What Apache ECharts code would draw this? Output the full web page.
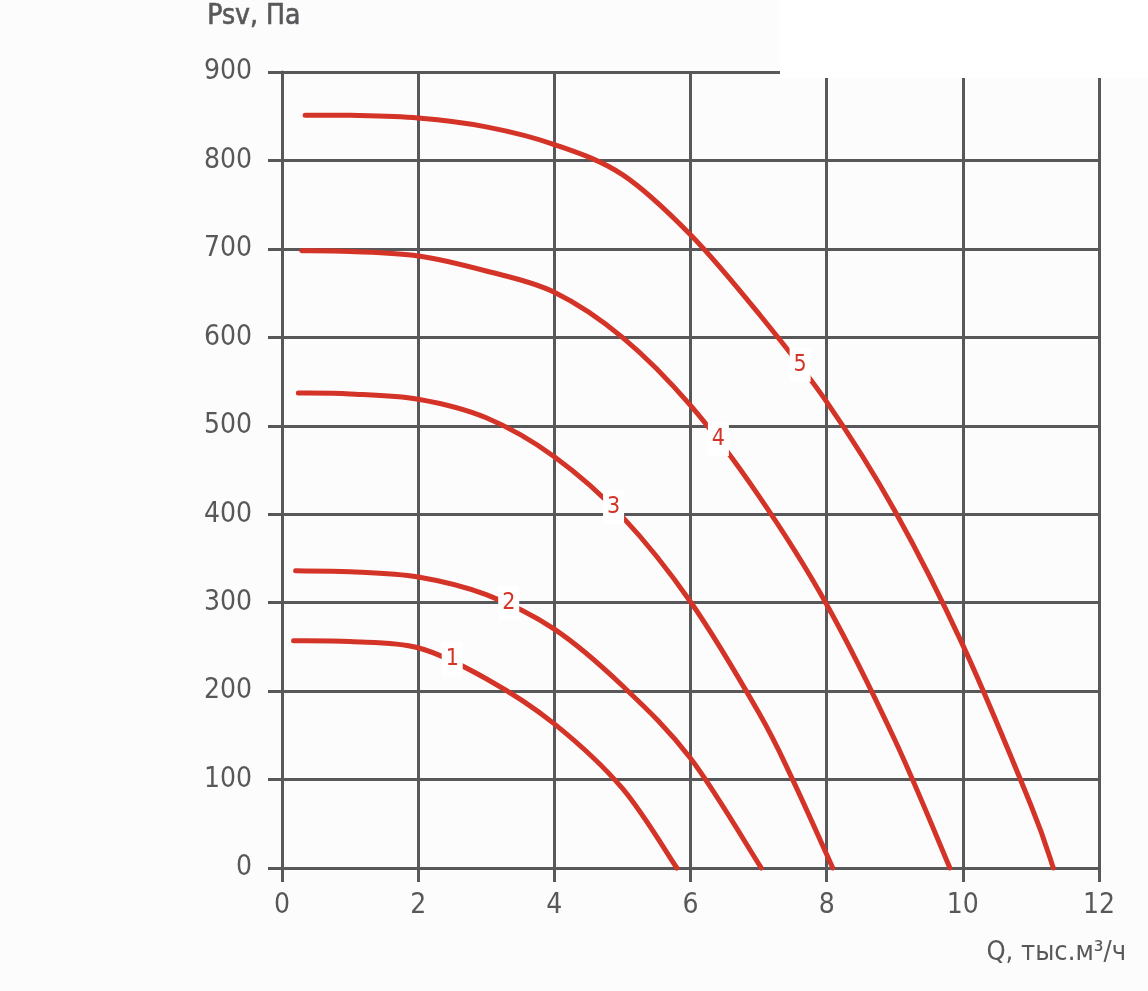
<!DOCTYPE html>
<html>
<head>
<meta charset="utf-8">
<script src="https://cdn.jsdelivr.net/npm/echarts@6/dist/echarts.min.js"></script>
<style>
html,body{margin:0;padding:0;background:#fcfcfc;}
#chart{width:1148px;height:991px;}
</style>
</head>
<body>
<div id="chart"></div>
<script>
// Data (Q in thousand m3/h, Psv in Pa)
const curve1 = [[0.17,257],[1,256],[2,249],[3,214],[4,163],[5,90],[5.8,0]];
const curve2 = [[0.2,336],[1,335],[2,329],[3,309],[4,270],[5,206],[6,124],[7.04,0]];
const curve3 = [[0.24,537],[1,536],[2,530],[3,509],[4,465],[5,397],[6,301],[7,176],[7.5,100],[8.09,0]];
const curve4 = [[0.29,698],[1,697],[2,692],[3,675],[4,651],[5,600],[6,523],[7,421],[8,298],[9,145],[9.81,0]];
const curve5 = [[0.34,851],[1,851],[2,848],[3,838],[4,818],[5,784],[6,716],[7,627],[8,527],[9,404],[10,252],[11,71],[11.33,0]];
const curveNames = ['1','2','3','4','5'];
const labelPoints = [[2.5,236],[3.33,300],[4.87,408],[6.41,485],[7.61,569]];
const xTicks = [0,2,4,6,8,10,12];
const yTicks = [0,100,200,300,400,500,600,700,800,900];
const yTitle = 'Psv, Па';
const xTitle = 'Q, тыс.м³/ч';

const FONT = "'DejaVu Sans Condensed','Liberation Sans Narrow',sans-serif";
const GREY = '#58585a';
const RED = '#d43427';

// Smooth curve through the data points, positioned via the axes (api.coord)
function smoothPath(pts) {
  let d = 'M' + pts[0][0] + ' ' + pts[0][1];
  for (let i = 0; i < pts.length - 1; i++) {
    const p0 = pts[i - 1] || pts[i];
    const p1 = pts[i];
    const p2 = pts[i + 1];
    const p3 = pts[i + 2] || p2;
    const c1x = p1[0] + (p2[0] - p0[0]) / 6, c1y = p1[1] + (p2[1] - p0[1]) / 6;
    const c2x = p2[0] - (p3[0] - p1[0]) / 6, c2y = p2[1] - (p3[1] - p1[1]) / 6;
    d += ' C' + c1x + ' ' + c1y + ' ' + c2x + ' ' + c2y + ' ' + p2[0] + ' ' + p2[1];
  }
  return d;
}

const curves = [curve1, curve2, curve3, curve4, curve5];
const series = curves.map((c, i) => ({
  type: 'custom', name: curveNames[i], data: c, z: 3, silent: true,
  encode: {x: 0, y: 1},
  renderItem: function (params, api) {
    if (params.dataIndex !== 0) return null;
    const pts = c.map(p => api.coord(p));
    return {
      type: 'path',
      shape: {pathData: smoothPath(pts)},
      style: {fill: null, stroke: RED, lineWidth: 5, lineCap: 'round', lineJoin: 'round'}
    };
  }
}));
series.push({
  type: 'scatter',
  data: labelPoints.map((p, i) => ({value: p, name: curveNames[i]})),
  symbol: 'rect', symbolSize: [21, 34],
  itemStyle: {color: '#ffffff', opacity: 1},
  label: {show: true, position: 'inside', formatter: '{b}', color: RED, fontFamily: FONT, fontSize: 23},
  z: 5, silent: true
});

const chart = echarts.init(document.getElementById('chart'), null, {renderer: 'canvas'});
chart.setOption({
  backgroundColor: '#fcfcfc',
  animation: false,
  grid: {left: 282, top: 72, right: 49, bottom: 123, containLabel: false},
  xAxis: {
    type: 'value', min: 0, max: 12, interval: 2,
    axisLine: {show: true, lineStyle: {color: GREY, width: 3}},
    axisTick: {show: true, length: 14, lineStyle: {color: GREY, width: 3}},
    splitLine: {show: true, lineStyle: {color: GREY, width: 3}},
    axisLabel: {color: GREY, fontFamily: FONT, fontSize: 28, margin: 24,
      formatter: v => xTicks.includes(v) ? String(v) : ''}
  },
  yAxis: {
    type: 'value', min: 0, max: 900, interval: 100,
    axisLine: {show: true, lineStyle: {color: GREY, width: 3}},
    axisTick: {show: true, length: 14, lineStyle: {color: GREY, width: 3}},
    splitLine: {show: true, lineStyle: {color: GREY, width: 3}},
    axisLabel: {color: GREY, fontFamily: FONT, fontSize: 28, margin: 30,
      formatter: v => yTicks.includes(v) ? String(v) : ''}
  },
  graphic: [
    {type: 'rect', left: 780, top: 0, shape: {width: 368, height: 78}, style: {fill: '#ffffff'}, z: 100},
    {type: 'text', left: 207, top: 2, style: {text: yTitle, fill: GREY, font: "28px " + FONT, stroke: GREY, lineWidth: 0.6}, z: 101},
    {type: 'text', right: 22, top: 939, style: {text: xTitle, fill: GREY, font: "27px " + FONT}, z: 101}
  ],
  series: series
});
</script>
</body>
</html>
